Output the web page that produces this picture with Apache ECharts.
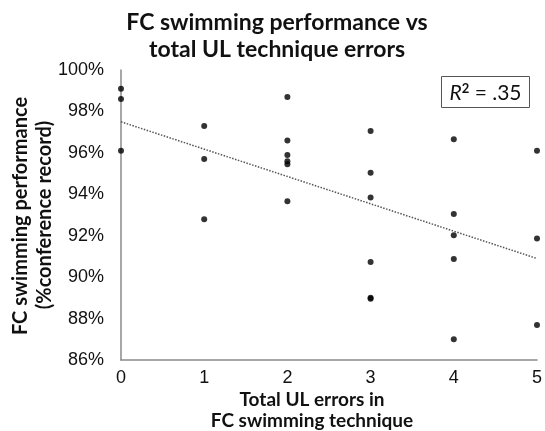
<!DOCTYPE html>
<html><head><meta charset="utf-8">
<script src="https://cdn.jsdelivr.net/npm/echarts@6/dist/echarts.min.js"></script>
<style>html,body{margin:0;padding:0;background:#fff}#c{width:545px;height:431px}</style>
</head><body><div id="c"></div>
<script>
var errors = [0,0,0, 1,1,1, 2,2,2,2,2,2, 3,3,3,3,3,3, 4,4,4,4,4, 5,5,5];
var performance = [99.1,98.6,96.1, 97.3,95.7,92.8, 98.7,96.6,95.9,95.6,95.45,93.66, 97.06,95.04,93.84,90.73,89.01,88.96, 96.66,93.05,92.02,90.88,87.0, 96.1,91.86,87.69];
var trendX = [0,5];
var trendY = [97.5,90.9];
var yTicks = [86,88,90,92,94,96,98,100];
var xTicks = [0,1,2,3,4,5];
var titleLines = ['FC swimming performance vs','total UL technique errors'];
var xNameLines = ['Total UL errors in','FC swimming technique'];
var yNameLines = ['FC swimming performance','(%conference record)'];

var pts = errors.map(function(e,i){return [e, performance[i]];});
var trend = trendX.map(function(x,i){return [x, trendY[i]];});
var chart = echarts.init(document.getElementById('c'), null, {renderer:'canvas'});
var boldFont = 'Lato';
chart.setOption({
  animation:false,
  backgroundColor:'#fff',
  title:{text:titleLines.join('\n'), left:272, top:4, textAlign:'center',
    textStyle:{fontFamily:boldFont, fontWeight:'bold', fontSize:23, color:'#111', lineHeight:27}},
  grid:{left:121, right:6, top:70, bottom:71},
  xAxis:{type:'value', min:xTicks[0], max:xTicks[xTicks.length-1], interval:1,
    axisLine:{lineStyle:{color:'#8a8a8a', width:1.5}}, axisTick:{show:false}, splitLine:{show:false},
    axisLabel:{fontFamily:'Liberation Sans', fontSize:18, color:'#111', margin:9}},
  yAxis:{type:'value', min:yTicks[0], max:yTicks[yTicks.length-1], interval:2,
    axisLine:{show:true, lineStyle:{color:'#8a8a8a', width:1.5}}, axisTick:{show:false}, splitLine:{show:false},
    axisLabel:{fontFamily:'Liberation Sans', fontSize:18, color:'#111', margin:17, formatter:function(v){return v+'%';}}},
  series:[
    {type:'line', data:trend, symbol:'none', lineStyle:{type:'dotted', color:'#555', width:1.5}, z:1},
    {type:'scatter', data:pts, symbol:'circle', symbolSize:6, itemStyle:{color:'#000'}, z:3}
  ],
  graphic:[
    {type:'text', x:312, y:400, style:{text:xNameLines[0], font:'bold 19px '+boldFont, fill:'#111', align:'center', verticalAlign:'middle'}},
    {type:'text', x:312, y:421, style:{text:xNameLines[1], font:'bold 19px '+boldFont, fill:'#111', align:'center', verticalAlign:'middle'}},
    {type:'text', x:21, y:216, rotation:Math.PI/2, style:{text:yNameLines[0], font:'bold 20px '+boldFont, fill:'#111', align:'center', verticalAlign:'middle'}},
    {type:'text', x:45, y:215, rotation:Math.PI/2, style:{text:yNameLines[1], font:'bold 20px '+boldFont, fill:'#111', align:'center', verticalAlign:'middle'}},
    {type:'rect', shape:{x:441.5, y:76.5, width:88, height:31}, style:{fill:'#fff', stroke:'#555', lineWidth:1}, z:10},
    {type:'text', x:485.5, y:93, z:11, style:{
      text:'{i|R}{s|2}{n| = .35}', align:'center', verticalAlign:'middle',
      rich:{
        i:{font:'italic 21px '+boldFont, fill:'#111'},
        s:{font:'bold 13px '+boldFont, fill:'#111', verticalAlign:'top', padding:[0,0,8,0]},
        n:{font:'21px '+boldFont, fill:'#111'}
      }}}
  ]
});
</script></body></html>
